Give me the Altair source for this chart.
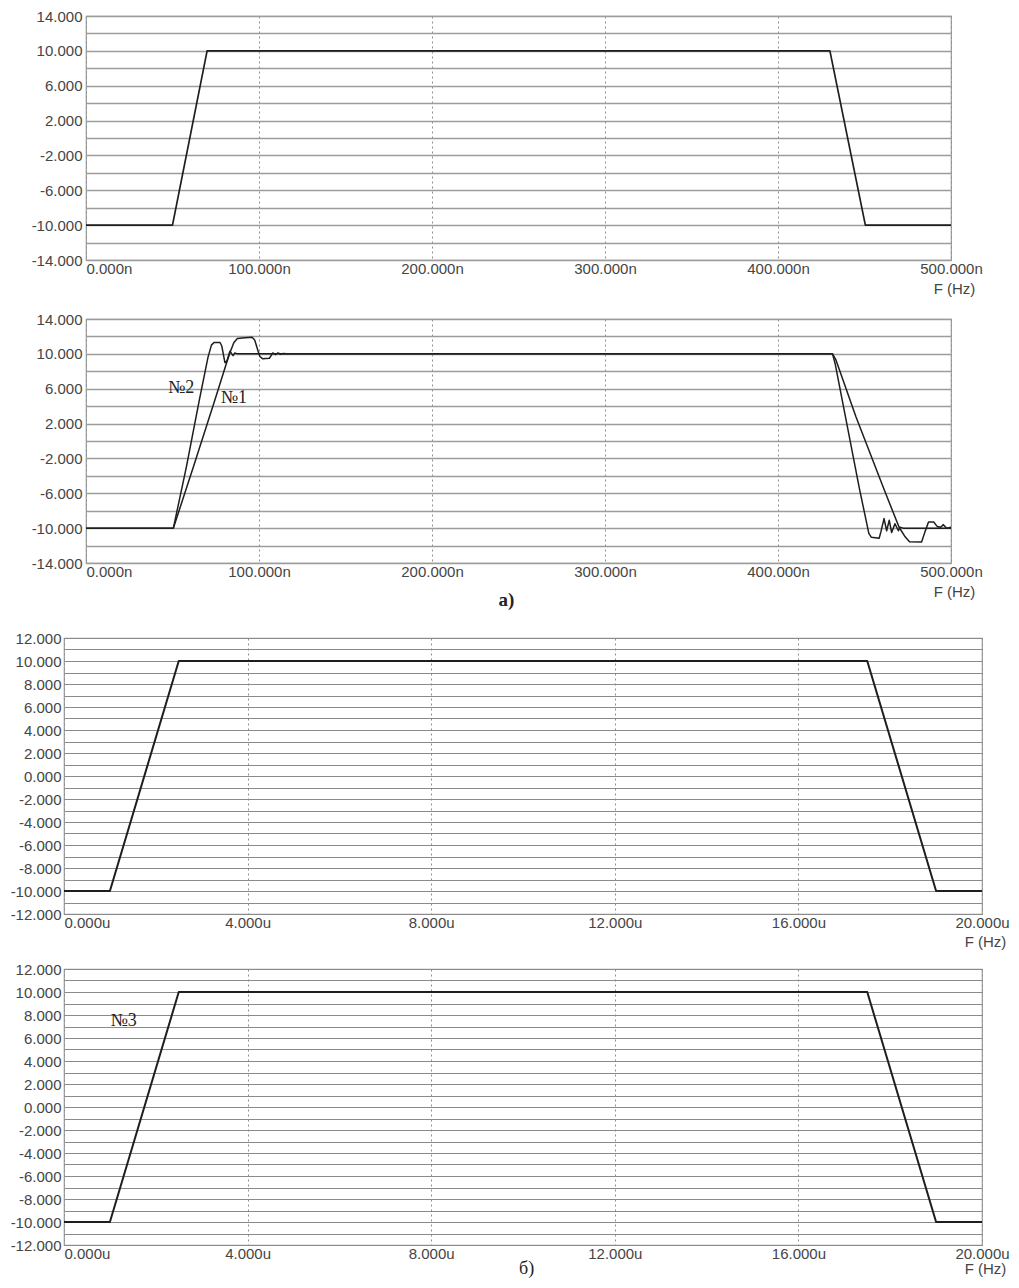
import altair as alt
import pandas as pd

# ---------------- data ----------------
# а) upper panel: ideal trapezoid pulse (time axis in ns)
a1_t = [0, 50, 70, 430, 450.5, 500]
a1_v = [-10, -10, 10, 10, -10, -10]

# а) lower panel, curve №1 (slower edges)
n1_t = [0, 50.5, 62, 74.5, 81, 83.5, 85.5, 87.5, 92, 96, 97.5, 99.5, 100.5, 102, 106, 107, 108,
        109.5, 111, 112.5, 114, 116, 431.5, 433.5, 445, 461, 470, 473.5, 476, 483, 485, 487,
        490, 492, 494, 495.6, 497.5, 500]
n1_v = [-10, -10, -3.0, 4.7, 8.8, 10.3, 11.3, 11.75, 11.85, 11.9, 11.6, 10.3, 9.7, 9.45, 9.5, 9.8, 10.1,
        9.9, 10.1, 9.95, 10.05, 10.0, 10.0, 9.3, 2.8, -5.4, -9.9, -11.0, -11.55, -11.6, -10.4, -9.3,
        -9.3, -9.8, -9.9, -9.6, -10.0, -9.9]

# а) lower panel, curve №2 (steeper edges, ringing)
n2_t = [0, 50.5, 58, 65.5, 70.5, 72.5, 74, 77.5, 78.5, 80.3, 81.5, 83.2, 85, 86, 87.5,
        431.5, 433, 447, 452.5, 454, 458.5, 459.5, 461.3, 462.8, 464.3, 465.7, 467.6,
        469.6, 470.5, 472.4, 500]
n2_v = [-10, -10, -3.0, 4.7, 9.6, 11.0, 11.3, 11.3, 10.9, 9.0, 9.2, 10.3, 9.8, 10.1, 10.0,
        10.0, 8.9, -5.4, -10.6, -11.05, -11.15, -10.4, -8.9, -10.3, -9.1, -10.5, -9.5,
        -10.3, -9.9, -10.0, -10.0]

# б) panels (time axis in µs)
b_t = [0, 1.0, 2.5, 17.5, 19.0, 20]
b_v = [-10, -10, 10, 10, -10, -10]

x_ticks_a = [0, 100, 200, 300, 400, 500]
x_ticks_b = [0, 4, 8, 12, 16, 20]
y_grid_a = list(range(-14, 15, 2))
y_grid_b = list(range(-12, 13, 1))

label_a_text = ["№2", "№1"]
label_a_t = [55, 85.5]
label_a_v = [6.1, 4.9]
label_b_text = ["№3"]
label_b_t = [1.3]
label_b_v = [7.5]
caption_text = ["а)", "б)"]
caption_t = [243, 10.08]

# ---------------- style ----------------
SANS = "Liberation Sans"
SERIF = "Liberation Serif"
TXT = "#454545"
GRID = "#9c9c9c"
LINE = "#1e1e1e"

W_A, H_A = 865, 244
W_B, H_B = 918, 276
EXT = 55

MINUS = "\u2212"


def x_enc(domain, ticks, unit, width, title_y):
    return alt.X(
        "t:Q",
        scale=alt.Scale(domain=domain, nice=False, zero=False),
        axis=alt.Axis(
            values=ticks,
            labelExpr=f"format(datum.value, '.3f') + '{unit}'",
            labelAlign={"condition": {"test": "datum.value == 0", "value": "left"}, "value": "center"},
            labelFlush=False,
            labelOverlap=False,
            labelPadding=1,
            labelFont=SANS,
            labelFontSize=15,
            labelColor=TXT,
            ticks=False,
            domain=False,
            grid=True,
            gridColor="#8f8f8f",
            gridDash=[2, 3],
            gridWidth=1,
            title="F (Hz)",
            titleX=width + 3,
            titleY=title_y,
            titleAlign="center",
            titleBaseline="middle",
            titleFont=SANS,
            titleFontSize=15,
            titleFontWeight="normal",
            titleColor=TXT,
        ),
    )


def y_enc(domain, grid_vals, label_test, pad, gcolor, gwidth):
    return alt.Y(
        "v:Q",
        scale=alt.Scale(domain=domain, nice=False, zero=False),
        axis=alt.Axis(
            values=grid_vals,
            labelExpr=f"{label_test} ? replace(format(datum.value, '.3f'), '{MINUS}', '-') : ''",
            labelOverlap=False,
            labelPadding=pad,
            labelFont=SANS,
            labelFontSize=15,
            labelColor=TXT,
            labelBaseline="middle",
            ticks=False,
            domain=False,
            grid=True,
            gridColor=gcolor,
            gridWidth=gwidth,
            minExtent=EXT,
            maxExtent=EXT,
            title="",
        ),
    )


def panel(lines_df, width, height, xe, ye, sw, notes_df=None, cap_df=None, cap_dy=0,
          cap_size=18, cap_weight="normal"):
    layers = [
        alt.Chart(lines_df)
        .mark_line(color=LINE, strokeWidth=sw, strokeJoin="round")
        .encode(x=xe, y=ye, detail="s:N", order="i:Q")
    ]
    if notes_df is not None:
        layers.append(
            alt.Chart(notes_df)
            .mark_text(font=SERIF, fontSize=18, color="#222222", align="center", baseline="middle")
            .encode(x=xe, y=ye, text="label:N")
        )
    if cap_df is not None:
        layers.append(
            alt.Chart(cap_df)
            .mark_text(font=SERIF, fontSize=cap_size, fontWeight=cap_weight, color="#222222",
                       align="center", baseline="middle")
            .encode(x=xe, y=alt.value(height + cap_dy), text="label:N")
        )
    return alt.layer(*layers).properties(width=width, height=height)


def series(name, t, v):
    return pd.DataFrame({"s": name, "t": t, "v": v, "i": range(len(t))})


df_a1 = series("ideal", a1_t, a1_v)
df_a2 = pd.concat([series("№1", n1_t, n1_v), series("№2", n2_t, n2_v)], ignore_index=True)
df_b = series("ideal", b_t, b_v)

notes_a = pd.DataFrame({"label": label_a_text, "t": label_a_t, "v": label_a_v})
notes_b = pd.DataFrame({"label": label_b_text, "t": label_b_t, "v": label_b_v})
cap_a = pd.DataFrame({"label": [caption_text[0]], "t": [caption_t[0]]})
cap_b = pd.DataFrame({"label": [caption_text[1]], "t": [caption_t[1]]})

test_a = "(datum.value + 14) % 4 == 0"
test_b = "datum.value % 2 == 0"

xa = x_enc([0, 500], x_ticks_a, "n", W_A, 28)
ya = y_enc([-14, 14], y_grid_a, test_a, 4, GRID, 1.3)
xb3 = x_enc([0, 20], x_ticks_b, "u", W_B, 27)
xb4 = x_enc([0, 20], x_ticks_b, "u", W_B, 23)
yb = y_enc([-12, 12], y_grid_b, test_b, 3, "#8a8a8a", 1)

p1 = panel(df_a1, W_A, H_A, xa, ya, 1.7)
p2 = panel(df_a2, W_A, H_A, xa, ya, 1.5, notes_df=notes_a, cap_df=cap_a, cap_dy=37,
           cap_size=19, cap_weight="bold")
p3 = panel(df_b, W_B, H_B, xb3, yb, 2)
p4 = panel(df_b, W_B, H_B, xb4, yb, 2, notes_df=notes_b, cap_df=cap_b, cap_dy=24, cap_size=18)

# invisible 1px spacer: shifts the upper pair of panels right relative to the lower pair
spacer = (
    alt.Chart(pd.DataFrame({"z": [0]}))
    .mark_point(size=0, opacity=0)
    .encode(x=alt.value(0), y=alt.value(0))
    .properties(width=1, height=1, view=alt.ViewBackground(stroke="transparent"))
)

top = alt.hconcat(spacer, alt.vconcat(p1, p2, spacing=14), spacing=-36)
bottom = alt.vconcat(p3, p4, spacing=11)

chart = (
    alt.vconcat(top, bottom, spacing=19)
    .properties(padding={"left": 0, "top": 0, "right": 0, "bottom": 0}, background="white")
    .configure_view(stroke="#9a9a9a", strokeWidth=1.2)
)

chart.save("out.html", embed_options={"renderer": "svg", "actions": False})
